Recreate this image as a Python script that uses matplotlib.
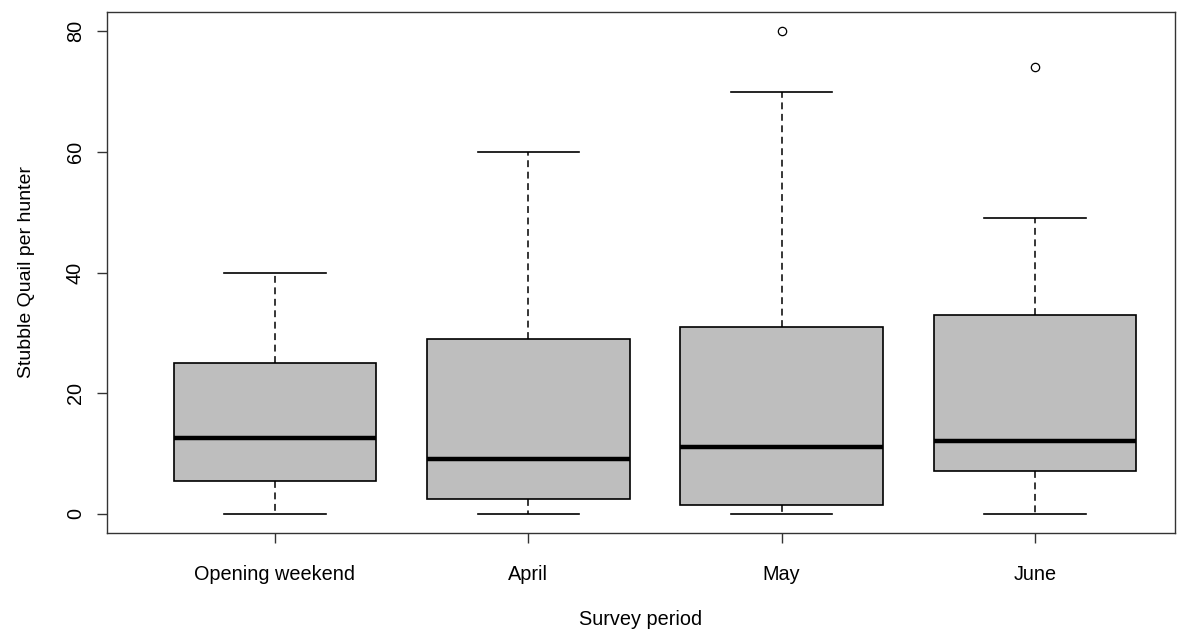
import matplotlib
matplotlib.use("Agg")
import matplotlib.pyplot as plt

plt.rcParams['font.family'] = ['Liberation Sans', 'DejaVu Sans']

categories = ["Opening weekend", "April", "May", "June"]
whislo = [0, 0, 0, 0]
q1 = [5.5, 2.5, 1.5, 7]
med = [12.5, 9, 11, 12]
q3 = [25, 29, 31, 33]
whishi = [40, 60, 70, 49]
outliers = [[], [], [80], [74]]

stats = []
for i in range(len(categories)):
    stats.append(dict(label=categories[i], whislo=whislo[i], q1=q1[i], med=med[i],
                      q3=q3[i], whishi=whishi[i], fliers=outliers[i]))

fig = plt.figure(figsize=(11.88, 6.33), dpi=100)
ax = fig.add_axes([107/1188, 1-533/633, (1175-107)/1188, (533-12)/633])

ax.bxp(stats, positions=[1, 2, 3, 4], widths=0.8, patch_artist=True,
       boxprops=dict(facecolor='#bebebe', edgecolor='black', linewidth=1.2),
       medianprops=dict(color='black', linewidth=3.2),
       whiskerprops=dict(color='black', linestyle=(0, (4.5, 3)), linewidth=1.1),
       capprops=dict(color='black', linewidth=1.2),
       capwidths=0.4,
       flierprops=dict(marker='o', markersize=6, markerfacecolor='none',
                       markeredgecolor='black', markeredgewidth=0.9))

ax.set_xlim(0.337, 4.553)
ax.set_ylim(-3.2, 83.2)
ax.set_yticks([0, 20, 40, 60, 80])
ax.set_yticklabels(['0', '20', '40', '60', '80'], rotation=90, va='center')
ax.tick_params(axis='both', labelsize=14.3, length=7, width=1, color='#333333')
ax.tick_params(axis='y', pad=9)
ax.tick_params(axis='x', pad=16)
for s in ax.spines.values():
    s.set_color('#333333')
    s.set_linewidth(1)

ax.set_xlabel('Survey period', fontsize=14.3, labelpad=19)
ax.set_ylabel('Stubble Quail per hunter', fontsize=14, labelpad=22)

fig.savefig('out.png', dpi=100)
